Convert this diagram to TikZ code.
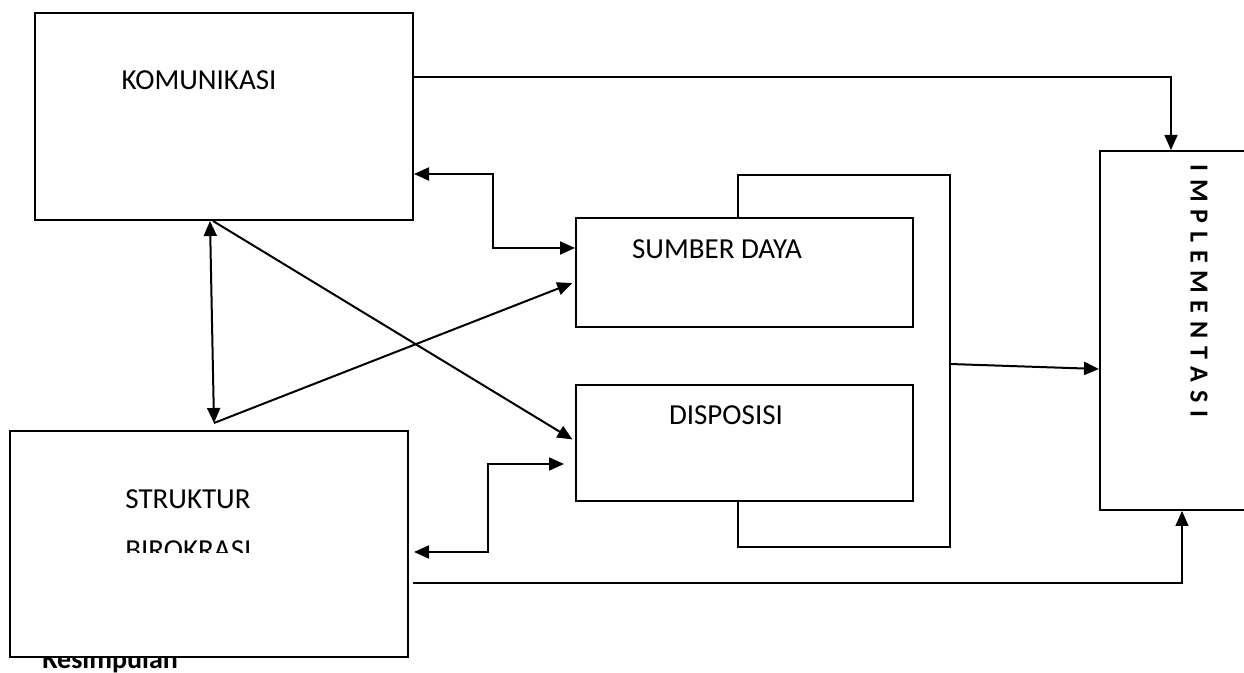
\documentclass[tikz,border=0pt]{standalone}
\usepackage{fontspec}
\setmainfont{Carlito}
\usetikzlibrary{arrows.meta,fit}
\begin{document}
\begin{tikzpicture}[x=0.5pt,y=-0.5pt,
  box/.style={draw=black, line width=1pt, fill=white, inner sep=0pt},
  conn/.style={line width=1pt},
  thinconn/.style={line width=0.75pt},
  tip/.style={-{Triangle[length=7.5pt,width=6.5pt]}},
  tipboth/.style={{Triangle[length=7.5pt,width=6.5pt]}-{Triangle[length=7.5pt,width=6.5pt]}},
  lbl/.style={font=\fontsize{14.5}{17}\selectfont, inner sep=0pt, anchor=base}]
\clip (0,0) rectangle (1244,673);
\fill[white] (0,0) rectangle (1244,673);

% text partly hidden below the lower box
\node[font=\fontsize{14}{16}\selectfont\bfseries, inner sep=0pt, anchor=base west] (kes) at (42,669) {Kesimpulan};

% boxes
\node[box, fit={(35,13) (413,220)}] (kom) {};
\node[box, fit={(10,431) (408,657)}] (sb) {};
\node[box, fit={(576,218) (913,327)}] (sd) {};
\node[box, fit={(576,385) (913,501)}] (disp) {};
\node[box, fit={(1100,151) (1270,510)}] (impl) {};

% labels
\node[lbl] (tkom) at (199,90) {KOMUNIKASI};
\node[lbl] (tsd) at (717,259) {SUMBER DAYA};
\node[lbl] (tdisp) at (726,425) {DISPOSISI};
\node[lbl, anchor=base west] (tsb) at (125,509) {STRUKTUR};
\begin{scope}
  \clip (0,0) rectangle (1244,552.7);
  \node[lbl, anchor=base west] (tsb2) at (125,560) {BIROKRASI};
\end{scope}
\node[font=\fontsize{13}{15}\selectfont\bfseries\addfontfeature{LetterSpace=7}, rotate=-90, inner sep=0pt] (timpl) at (1199,291) {I M P L E M E N T A S I};

% helper coordinates
\coordinate (b1) at (738,175);
\coordinate (b2) at (950,175);
\coordinate (b3) at (950,547);
\coordinate (b4) at (738,547);
\coordinate (bm) at (950,364);
\coordinate (im) at (1100,369);
\coordinate (c1) at (1171,77);
\coordinate (c2) at (493,174);
\coordinate (c3) at (493,248);
\coordinate (c4) at (488,552);
\coordinate (c5) at (488,464);
\coordinate (c6) at (1182,583);
\coordinate (d1) at (210,0);
\coordinate (d2) at (214,423);
\coordinate (d3) at (213,0);
\coordinate (e1) at (0,441);
\coordinate (e2) at (0,282);

% bracket around the middle boxes
\draw[conn] (sd.north -| b1) -- (b1) -- (b2) -- (b3) -- (b4) -- (disp.south -| b4);
\draw[conn,tip] (bm) -- (impl.west |- im);

% connectors
\draw[thinconn,tip] (kom.east |- c1) -| (impl.north -| c1);
\draw[conn,tipboth] (kom.east |- c2) -- (c2) -- (c3) -- (sd.west |- c3);
\draw[conn,tipboth, shorten <=2.5pt, shorten >=5.5pt] (sb.east |- c4) -- (c4) -- (c5) -- (disp.west |- c5);
\draw[thinconn,tip, shorten <=2pt] (sb.east |- c6) -| (impl.south -| c6);
\draw[conn,tipboth] (kom.south -| d1) -- (d2);
\draw[conn,tip, shorten >=1.5pt] (kom.south -| d3) -- (disp.west |- e1);
\draw[conn,tip, shorten >=1.5pt] (d2) -- (sd.west |- e2);
\end{tikzpicture}
\end{document}
